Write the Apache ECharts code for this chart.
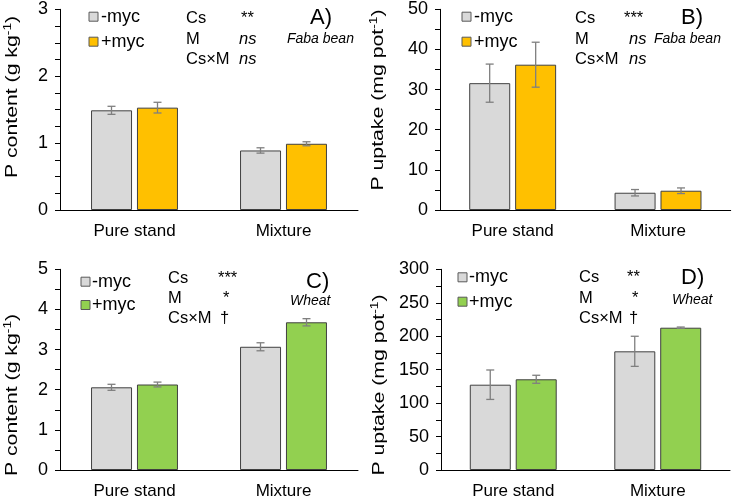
<!DOCTYPE html>
<html>
<head>
<meta charset="utf-8">
<script src="https://cdn.jsdelivr.net/npm/echarts@6/dist/echarts.min.js"></script>
<style>
html,body{margin:0;padding:0;background:#fff;}
#chart{width:733px;height:500px;}
</style>
</head>
<body>
<div id="chart"></div>
<script>
// ---- data ----
const categories = ['Pure stand', 'Mixture'];
// A) P content, faba bean (g kg-1)
const fabaContentMinus = [1.49, 0.89];
const fabaContentPlus  = [1.53, 0.99];
const fabaContentMinusErr = [0.06, 0.04];
const fabaContentPlusErr  = [0.08, 0.03];
// B) P uptake, faba bean (mg pot-1)
const fabaUptakeMinus = [31.6, 4.3];
const fabaUptakePlus  = [36.2, 4.8];
const fabaUptakeMinusErr = [4.75, 0.8];
const fabaUptakePlusErr  = [5.6, 0.7];
// C) P content, wheat (g kg-1)
const wheatContentMinus = [2.06, 3.07];
const wheatContentPlus  = [2.13, 3.68];
const wheatContentMinusErr = [0.075, 0.1];
const wheatContentPlusErr  = [0.06, 0.09];
// D) P uptake, wheat (mg pot-1)
const wheatUptakeMinus = [127.5, 177.4];
const wheatUptakePlus  = [135.6, 212.7];
const wheatUptakeMinusErr = [22, 22.5];
const wheatUptakePlusErr  = [6, 1];
// axis ticks
const yMaxes = [3, 50, 5, 300];
const yIntervals = [1, 10, 1, 50];
const yMinorSplits = [4, 2, 2, 2];
// significance annotations
const sigTerms = ['Cs', 'M', 'Cs×M'];
const sigA = ['**', 'ns', 'ns'];
const sigB = ['***', 'ns', 'ns'];
const sigC = ['***', '*', '†'];
const sigD = ['**', '*', '†'];
const legendNames = ['-myc', '+myc'];

// ---- style ----
const FONT = 'Liberation Sans, Arial, sans-serif';
const GREY = '#D9D9D9', ORANGE = '#FFC000', GREEN = '#92D050';
const BORDER = '#404040', ERR = '#7F7F7F';
const BAR_W = 41, BAR_GAP = '12%';
const HALF_OFF = 23;

const grids = [
  {left: 60,  top: 9.3,   width: 298,   height: 200.7},
  {left: 440, top: 9.3,   width: 290.7, height: 200.7},
  {left: 60,  top: 269.3, width: 298,   height: 200.7},
  {left: 441, top: 269.3, width: 289,   height: 200.7}
];

const panels = [
  {minus: fabaContentMinus, plus: fabaContentPlus, mErr: fabaContentMinusErr, pErr: fabaContentPlusErr, color: ORANGE},
  {minus: fabaUptakeMinus, plus: fabaUptakePlus, mErr: fabaUptakeMinusErr, pErr: fabaUptakePlusErr, color: ORANGE},
  {minus: wheatContentMinus, plus: wheatContentPlus, mErr: wheatContentMinusErr, pErr: wheatContentPlusErr, color: GREEN},
  {minus: wheatUptakeMinus, plus: wheatUptakePlus, mErr: wheatUptakeMinusErr, pErr: wheatUptakePlusErr, color: GREEN}
];

const xAxes = [], yAxes = [], series = [];
panels.forEach((p, i) => {
  xAxes.push({
    type: 'category', gridIndex: i, data: categories,
    axisLine: {lineStyle: {color: '#000', width: 1}},
    axisTick: {show: false},
    axisLabel: {color: '#000', fontSize: 17, fontFamily: FONT, margin: 13}
  });
  yAxes.push({
    type: 'value', gridIndex: i, min: 0, max: yMaxes[i], interval: yIntervals[i],
    axisLine: {show: true, lineStyle: {color: '#000', width: 1}},
    axisTick: {show: true, inside: false, length: 5, lineStyle: {color: '#000'}},
    minorTick: {show: true, splitNumber: yMinorSplits[i], length: 5, lineStyle: {color: '#000'}},
    splitLine: {show: false},
    axisLabel: {color: '#000', fontSize: 18, fontFamily: FONT, margin: 12}
  });
  series.push({
    type: 'bar', name: legendNames[0], xAxisIndex: i, yAxisIndex: i, data: p.minus,
    barWidth: BAR_W, barGap: BAR_GAP,
    itemStyle: {color: GREY, borderColor: BORDER, borderWidth: 1}
  });
  series.push({
    type: 'bar', name: legendNames[1], xAxisIndex: i, yAxisIndex: i, data: p.plus,
    barWidth: BAR_W, barGap: BAR_GAP,
    itemStyle: {color: p.color, borderColor: BORDER, borderWidth: 1}
  });
  const errData = [];
  categories.forEach((c, k) => {
    errData.push([k, p.minus[k], p.mErr[k], -1]);
    errData.push([k, p.plus[k], p.pErr[k], 1]);
  });
  series.push({
    type: 'custom', xAxisIndex: i, yAxisIndex: i, data: errData, z: 10,
    renderItem: function (params, api) {
      const k = api.value(0), v = api.value(1), e = api.value(2), side = api.value(3);
      const x = api.coord([k, v])[0] + side * HALF_OFF;
      const yHi = api.coord([k, v + e])[1];
      const yLo = api.coord([k, v - e])[1];
      const cap = 4;
      const st = {stroke: ERR, lineWidth: 1.3};
      return {type: 'group', children: [
        {type: 'line', shape: {x1: x, y1: yHi, x2: x, y2: yLo}, style: st},
        {type: 'line', shape: {x1: x - cap, y1: yHi, x2: x + cap, y2: yHi}, style: st},
        {type: 'line', shape: {x1: x - cap, y1: yLo, x2: x + cap, y2: yLo}, style: st}
      ]};
    }
  });
});

// ---- annotations ----
const graphics = [];
function txt(x, y, text, opts) {
  opts = opts || {};
  graphics.push({
    type: 'text', x: x, y: y, silent: true,
    style: {
      text: text, fill: '#000',
      font: (opts.italic ? 'italic ' : '') + (opts.size || 16.5) + 'px ' + FONT,
      textAlign: opts.align || 'left', textVerticalAlign: 'middle'
    }
  });
}
function legend(x, tx, y1, y2, color) {
  [[y1, GREY, legendNames[0]], [y2, color, legendNames[1]]].forEach(([y, c, n]) => {
    graphics.push({type: 'rect', shape: {x: x, y: y - 4.5, width: 9, height: 9},
      style: {fill: c, stroke: '#595959', lineWidth: 1}, silent: true});
    txt(tx, y, n, {size: 18});
  });
}
function sig(xTerm, xVal, rows, vals) {
  sigTerms.forEach((t, r) => {
    txt(xTerm, rows[r], t);
    const isNs = vals[r] === 'ns';
    txt(xVal[r], rows[r], vals[r], {italic: isNs});
  });
}
function yTitle(x, y, main, sup) {
  graphics.push({
    type: 'text', x: x, y: y, rotation: Math.PI / 2, scaleX: 1.25, silent: true,
    style: {
      text: '{a|' + main + '}{s|' + sup + '}{a|)}',
      textAlign: 'center', textVerticalAlign: 'middle',
      rich: {
        a: {fontSize: 17, fontFamily: FONT, fill: '#000', color: '#000', lineHeight: 19},
        s: {fontSize: 11, fontFamily: FONT, fill: '#000', color: '#000', verticalAlign: 'top', lineHeight: 19}
      }
    }
  });
}
// Panel A
legend(89, 101, 16.7, 41.7, ORANGE);
sig(186, [241, 239, 239], [18.3, 39.3, 59.3], sigA);
txt(310, 18, 'A)', {size: 22});
txt(287, 39, 'Faba bean', {italic: true, size: 14});
yTitle(12, 97, 'P content (g kg', '-1');
// Panel B
legend(462, 474, 16.7, 41.7, ORANGE);
sig(575, [624, 629, 629], [18.3, 39.3, 59.3], sigB);
txt(681, 18, 'B)', {size: 22});
txt(654, 39, 'Faba bean', {italic: true, size: 14});
yTitle(378, 100, 'P uptake (mg pot', '-1');
// Panel C
legend(81, 92, 281.7, 305, GREEN);
sig(168, [218, 223, 220], [278.3, 298.3, 318.3], sigC);
txt(306, 281.7, 'C)', {size: 22});
txt(290, 300.7, 'Wheat', {italic: true, size: 14});
yTitle(12, 395, 'P content (g kg', '-1');
// Panel D
legend(458, 469, 277.3, 301.7, GREEN);
sig(579, [627, 632, 629], [277.3, 298.3, 318.3], sigD);
txt(681, 278.3, 'D)', {size: 22});
txt(672, 300, 'Wheat', {italic: true, size: 14});
yTitle(379, 385, 'P uptake (mg pot', '-1');

const chart = echarts.init(document.getElementById('chart'), null, {renderer: 'canvas'});
chart.setOption({
  animation: false,
  backgroundColor: '#fff',
  textStyle: {fontFamily: FONT},
  grid: grids,
  xAxis: xAxes,
  yAxis: yAxes,
  series: series,
  graphic: graphics
});
</script>
</body>
</html>
